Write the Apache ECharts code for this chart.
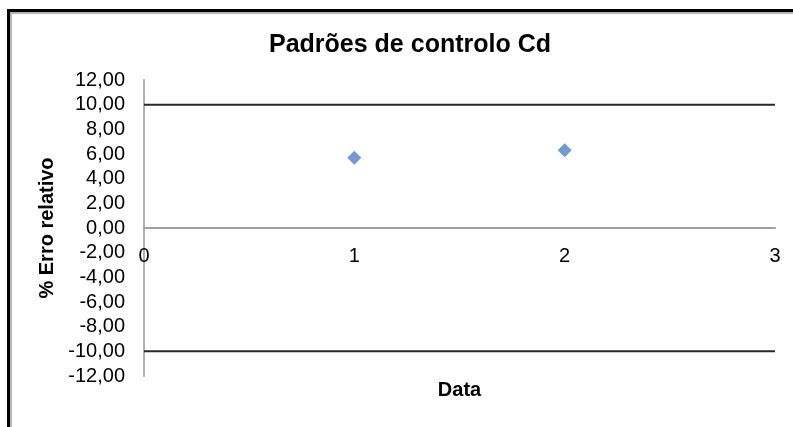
<!DOCTYPE html>
<html>
<head>
<meta charset="utf-8">
<script src="https://cdn.jsdelivr.net/npm/echarts@6/dist/echarts.min.js"></script>
<style>
  html, body { margin: 0; padding: 0; background: #fff; }
  #wrap { position: relative; width: 793px; height: 427px; overflow: hidden; }
  #chart { position: absolute; left: 0; top: 0; width: 793px; height: 427px; }
  #frame { position: absolute; left: 7px; top: 9px; right: -10px; bottom: -10px;
           border-left: 3px solid #000; border-top: 3px solid #000; pointer-events: none; }
  #frame2 { position: absolute; left: 0; top: 0; right: 0; bottom: 0;
            border-left: 2px solid #b4b4b4; border-top: 2px solid #b4b4b4; }
</style>
</head>
<body>
<div id="wrap">
  <div id="chart"></div>
  <div id="frame"><div id="frame2"></div></div>
</div>
<script>
const titleText = 'Padrões de controlo Cd';
const xAxisName = 'Data';
const yAxisName = '% Erro relativo';
const xValues = [1, 2];
const errValues = [5.7, 6.3];
const upperLimit = [10, 10];
const lowerLimit = [-10, -10];
const limitX = [0, 3];

const chart = echarts.init(document.getElementById('chart'), null, { renderer: 'canvas' });
const fmt = v => v.toFixed(2).replace('.', ',');
const font = 'Liberation Sans, Arial, sans-serif';

chart.setOption({
  animation: false,
  backgroundColor: '#fff',
  title: {
    text: titleText,
    left: 264, top: 28,
    textStyle: { fontFamily: font, fontSize: 25, fontWeight: 'bold', color: '#000' }
  },
  grid: { left: 144, right: 18, top: 80, bottom: 51, containLabel: false, outerBoundsMode: 'none' },
  xAxis: {
    type: 'value', min: 0, max: 3, interval: 1,
    offset: -148,
    name: xAxisName, nameLocation: 'middle', nameGap: 152,
    nameTextStyle: { fontFamily: font, fontSize: 20, fontWeight: 'bold', color: '#000', verticalAlign: 'top' },
    axisLine: { onZero: false, lineStyle: { color: '#a0a0a0', width: 2 } },
    axisTick: { show: false },
    splitLine: { show: false },
    axisLabel: { fontFamily: font, fontSize: 20, color: '#000', margin: 18,
                 showMinLabel: true, showMaxLabel: true, hideOverlap: false }
  },
  yAxis: {
    type: 'value', min: -12, max: 12, interval: 2,
    name: yAxisName, nameLocation: 'middle', nameGap: 84,
    nameTextStyle: { fontFamily: font, fontSize: 20, fontWeight: 'bold', color: '#000' },
    axisLine: { show: true, lineStyle: { color: '#b0b0b0', width: 2 } },
    axisTick: { show: false },
    splitLine: { show: false },
    axisLabel: { fontFamily: font, fontSize: 20, color: '#000', margin: 19, formatter: fmt,
                 showMinLabel: true, showMaxLabel: true, hideOverlap: false }
  },
  series: [
    {
      type: 'line', data: limitX.map((x, i) => [x, upperLimit[i]]),
      symbol: 'none', lineStyle: { color: '#262626', width: 2 }, silent: true
    },
    {
      type: 'line', data: limitX.map((x, i) => [x, lowerLimit[i]]),
      symbol: 'none', lineStyle: { color: '#262626', width: 2 }, silent: true
    },
    {
      type: 'scatter', data: xValues.map((x, i) => [x, errValues[i]]),
      symbol: 'diamond', symbolSize: 14,
      itemStyle: { color: '#4f81bd' }
    }
  ]
});
</script>
</body>
</html>
